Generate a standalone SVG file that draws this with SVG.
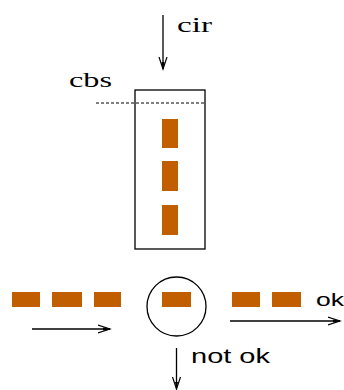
<svg xmlns="http://www.w3.org/2000/svg" width="344" height="390" viewBox="0 0 344 390">
  <style>
    .o { fill: #c05e00; }
    .ln { stroke: #000; stroke-width: 1.3; fill: none; }
    .t { font-family: "Liberation Sans", Arial, sans-serif; fill: #000; }
    .s { font-family: "Liberation Serif", "Times New Roman", serif; fill: #000; }
  </style>
  <defs>
    <marker id="arr" markerUnits="userSpaceOnUse" markerWidth="16" markerHeight="12" refX="12" refY="5" orient="auto" viewBox="0 0 16 12">
      <path d="M0,1 L12,5 L0,9" fill="none" stroke="#000" stroke-width="1.2"/>
      <path d="M5,3.5 L12,5 L5,6.5 Z" fill="#000"/>
    </marker>
  </defs>
  <rect width="344" height="390" fill="#fff"/>

  <g id="box">
    <rect x="135" y="90" width="70" height="159" class="ln"/>
    <line x1="96" y1="103" x2="205" y2="103" stroke="#000" stroke-width="1" stroke-dasharray="3,2"/>
    <rect class="o" x="162" y="119" width="16" height="29"/>
    <rect class="o" x="162" y="161" width="16" height="30"/>
    <rect class="o" x="162" y="205" width="16" height="30"/>
  </g>

  <g id="circle-node">
    <circle cx="176.5" cy="306.5" r="29.5" class="ln" stroke-width="1.1"/>
    <rect class="o" x="162" y="292" width="29" height="15"/>
  </g>

  <g id="queue-left">
    <rect class="o" x="12" y="292" width="28" height="15"/>
    <rect class="o" x="52" y="292" width="30" height="15"/>
    <rect class="o" x="94" y="292" width="27" height="15"/>
  </g>

  <g id="queue-right">
    <rect class="o" x="232" y="292" width="28" height="15"/>
    <rect class="o" x="272" y="292" width="29" height="15"/>
  </g>

  <g id="connectors">
    <line x1="163" y1="15" x2="163" y2="69" class="ln" marker-end="url(#arr)"/>
    <line x1="32" y1="329" x2="110" y2="329" class="ln" marker-end="url(#arr)"/>
    <line x1="230" y1="321" x2="340" y2="321" class="ln" marker-end="url(#arr)"/>
    <line x1="176.5" y1="348" x2="176.5" y2="389" class="ln" marker-end="url(#arr)"/>
  </g>

  <g id="labels">
    <text class="s" x="177" y="32" font-size="22" textLength="35" lengthAdjust="spacingAndGlyphs">cir</text>
    <text class="s" x="69" y="87" font-size="22" textLength="43" lengthAdjust="spacingAndGlyphs">cbs</text>
    <text class="t" x="316" y="306" font-size="18" textLength="28" lengthAdjust="spacingAndGlyphs">ok</text>
    <text class="t" x="191" y="363" font-size="20" textLength="79" lengthAdjust="spacingAndGlyphs">not ok</text>
  </g>
</svg>
